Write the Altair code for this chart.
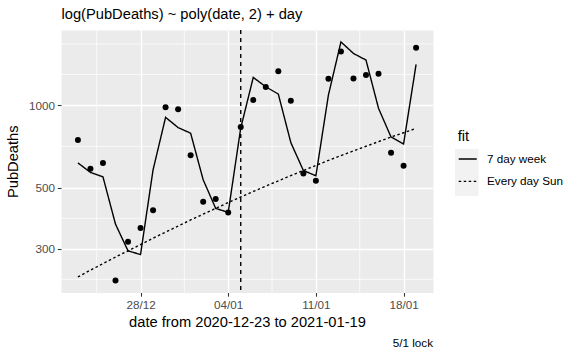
import altair as alt
import pandas as pd
import numpy as np

# ---- data ----
dates = ["2020-12-23", "2020-12-24", "2020-12-25", "2020-12-26", "2020-12-27",
         "2020-12-28", "2020-12-29", "2020-12-30", "2020-12-31", "2021-01-01",
         "2021-01-02", "2021-01-03", "2021-01-04", "2021-01-05", "2021-01-06",
         "2021-01-07", "2021-01-08", "2021-01-09", "2021-01-10", "2021-01-11",
         "2021-01-12", "2021-01-13", "2021-01-14", "2021-01-15", "2021-01-16",
         "2021-01-17", "2021-01-18", "2021-01-19"]
pub_deaths = [746, 586, 615, 230, 318, 357, 414, 981, 965, 657, 445, 455, 407, 832,
              1043, 1162, 1328, 1037, 564, 530, 1246, 1566, 1250, 1285, 1299, 671, 601, 1614]
fit_week = [616, 569, 548, 369, 295, 286, 581, 902, 828, 790, 535, 421, 407, 825,
            1260, 1165, 1096, 730, 578, 553, 1087, 1696, 1540, 1457, 973, 765, 722, 1405]
fit_sun = [237, 251, 265, 280, 295, 311, 328, 345, 363, 382, 401, 421, 442, 463,
           485, 507, 530, 554, 578, 603, 629, 655, 681, 708, 736, 765, 793, 822]
fit_names = ["7 day week", "Every day Sun"]

y_breaks = [300, 500, 1000]
y_minor = [232.4, 387.3, 707.1, 1291.0, 1666.7]
x_minor = ["2020-12-24T12:00:00Z", "2020-12-31T12:00:00Z",
           "2021-01-07T12:00:00Z", "2021-01-14T12:00:00Z"]
lock_date = ["2021-01-05"]
caption = ["5/1 lock"]
title_text = ["log(PubDeaths) ~ poly(date, 2) + day"]
x_title = "date from 2020-12-23 to 2021-01-19"
y_title = "PubDeaths"

FONT = "Liberation Sans"
W, H = 372, 262.5

# ---- tables ----
pts = pd.DataFrame({"date": dates, "PubDeaths": pub_deaths})
fits = pd.concat([
    pd.DataFrame({"date": dates, "value": fit_week, "fit": fit_names[0]}),
    pd.DataFrame({"date": dates, "value": fit_sun, "fit": fit_names[1]}),
])

# ggplot-like 5% expansion in log space
allv = np.log10(np.array(pub_deaths + fit_week + fit_sun, dtype=float))
lo, hi = allv.min(), allv.max()
pad = 0.05 * (hi - lo)
ydom = [float(10 ** (lo - pad)), float(10 ** (hi + pad))]

xscale = alt.Scale(type="utc", domain=[
    alt.DateTime(year=2020, month=12, date=21, hours=15, minutes=36, utc=True),
    alt.DateTime(year=2021, month=1, date=20, hours=8, minutes=24, utc=True)])
yscale = alt.Scale(type="log", domain=ydom, nice=False)

xaxis = alt.Axis(
    values=[alt.DateTime(year=2020, month=12, date=28, utc=True),
            alt.DateTime(year=2021, month=1, date=4, utc=True),
            alt.DateTime(year=2021, month=1, date=11, utc=True),
            alt.DateTime(year=2021, month=1, date=18, utc=True)],
    format="%d/%m", titleBaseline="alphabetic", titleY=33.5)
yaxis = alt.Axis(values=y_breaks, format="d", titleAngle=-90,
                 titleBaseline="alphabetic", titleX=-43.5, titleY=H / 2,
                 titleAlign="center")

X = lambda f: alt.X(f, scale=xscale, axis=xaxis, title=x_title)
Y = lambda f: alt.Y(f, scale=yscale, axis=yaxis, title=y_title)

minor_x = alt.Chart(pd.DataFrame({"d": x_minor})).mark_rule(
    color="white", strokeWidth=0.7).encode(x=X("d:T"))
minor_y = alt.Chart(pd.DataFrame({"v": y_minor})).mark_rule(
    color="white", strokeWidth=0.7).encode(y=Y("v:Q"))

keybg = alt.Chart(pd.DataFrame({"k": [0]})).mark_rect(color="#F2F2F2").encode(
    x=alt.value(394), x2=alt.value(417.5), y=alt.value(119), y2=alt.value(166))

lines = alt.Chart(fits).mark_line(color="black", strokeWidth=1.4).encode(
    x=X("date:T"),
    y=Y("value:Q"),
    strokeDash=alt.StrokeDash(
        "fit:N",
        scale=alt.Scale(domain=fit_names, range=[[1, 0], [2.5, 2.5]]),
        legend=alt.Legend(
            orient="none", legendX=396.7, legendY=99, title="fit",
            titleFont=FONT, titleFontSize=14.7, titleFontWeight="normal",
            titleColor="black", titlePadding=5.3, padding=0,
            labelFont=FONT, labelFontSize=11.7, labelColor="black",
            labelOffset=9.3, symbolType="stroke", symbolSize=324,
            symbolStrokeWidth=1.4, symbolStrokeColor="black", rowPadding=5.4)),
    detail="fit:N")

points = alt.Chart(pts).mark_circle(color="black", opacity=1, size=36).encode(
    x=X("date:T"), y=Y("PubDeaths:Q"))

vline = alt.Chart(pd.DataFrame({"d": lock_date})).mark_rule(
    color="black", strokeWidth=1.4, strokeDash=[4, 4]).encode(x=X("d:T"))

cap = alt.Chart(pd.DataFrame({"t": caption})).mark_text(
    font=FONT, fontSize=11.7, color="black", align="right",
    baseline="alphabetic").encode(
    x=alt.value(W), y=alt.value(316.5), text="t:N")

ttl = alt.Chart(pd.DataFrame({"t": title_text})).mark_text(
    font=FONT, fontSize=14.7, color="black", align="left",
    baseline="alphabetic").encode(
    x=alt.value(0.5), y=alt.value(-11.5), text="t:N")

chart = alt.layer(minor_x, minor_y, keybg, lines, points, vline, cap, ttl).properties(
    width=W, height=H,
    autosize=alt.AutoSizeParams(type="none"),
    padding={"left": 61, "top": 30, "right": 579 - 61 - W, "bottom": 357 - 30 - H},
    background="white",
).configure_view(fill="#EBEBEB", stroke="transparent").configure_axis(
    labelFont=FONT, labelFontSize=11.7, labelColor="#4D4D4D",
    tickColor="#333333", tickSize=3.67, tickWidth=1.07, labelPadding=2.9,
    domain=False, gridColor="white", gridWidth=1.4,
    titleFont=FONT, titleFontSize=14.7, titleColor="black",
    titleFontWeight="normal")

chart.save("out.html", embed_options={"renderer": "svg", "actions": False})
